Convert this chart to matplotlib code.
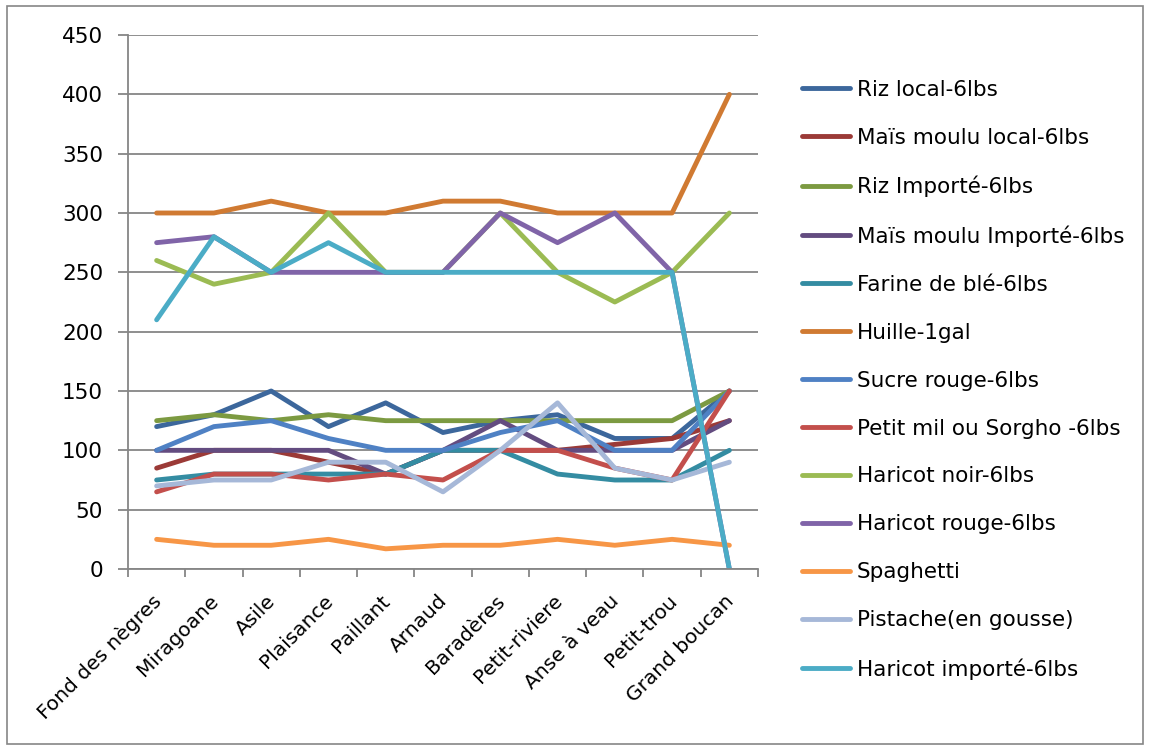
import matplotlib.pyplot as plt
import matplotlib.transforms as mtransforms
from matplotlib.patches import Rectangle

# categories (communes)
communes = ["Fond des nègres", "Miragoane", "Asile", "Plaisance", "Paillant", "Arnaud",
            "Baradères", "Petit-riviere", "Anse à veau", "Petit-trou", "Grand boucan"]

riz_local      = [120, 130, 150, 120, 140, 115, 125, 130, 110, 110, 150]
mais_local     = [85, 100, 100, 90, 80, 100, 100, 100, 105, 110, 125]
riz_importe    = [125, 130, 125, 130, 125, 125, 125, 125, 125, 125, 150]
mais_importe   = [100, 100, 100, 100, 80, 100, 125, 100, 100, 100, 125]
farine_ble     = [75, 80, 80, 80, 80, 100, 100, 80, 75, 75, 100]
huile          = [300, 300, 310, 300, 300, 310, 310, 300, 300, 300, 400]
sucre_rouge    = [100, 120, 125, 110, 100, 100, 115, 125, 100, 100, 150]
petit_mil      = [65, 80, 80, 75, 80, 75, 100, 100, 85, 75, 150]
haricot_noir   = [260, 240, 250, 300, 250, 250, 300, 250, 225, 250, 300]
haricot_rouge  = [275, 280, 250, 250, 250, 250, 300, 275, 300, 250, 0]
spaghetti      = [25, 20, 20, 25, 17, 20, 20, 25, 20, 25, 20]
pistache       = [70, 75, 75, 90, 90, 65, 100, 140, 85, 75, 90]
haricot_import = [210, 280, 250, 275, 250, 250, 250, 250, 250, 250, 0]

series = [
    ("Riz local-6lbs", riz_local, "#3C679C"),
    ("Maïs moulu local-6lbs", mais_local, "#9B3A37"),
    ("Riz Importé-6lbs", riz_importe, "#7C9A41"),
    ("Maïs moulu Importé-6lbs", mais_importe, "#634C80"),
    ("Farine de blé-6lbs", farine_ble, "#348CA2"),
    ("Huille-1gal", huile, "#D07A32"),
    ("Sucre rouge-6lbs", sucre_rouge, "#4F81C4"),
    ("Petit mil ou Sorgho -6lbs", petit_mil, "#C34F4C"),
    ("Haricot noir-6lbs", haricot_noir, "#9BBB53"),
    ("Haricot rouge-6lbs", haricot_rouge, "#8064A8"),
    ("Spaghetti", spaghetti, "#F79646"),
    ("Pistache(en gousse)", pistache, "#A6B8D8"),
    ("Haricot importé-6lbs", haricot_import, "#4BACC6"),
]

plt.rcParams['font.family'] = ['DejaVu Sans']
fig = plt.figure(figsize=(11.49, 7.49), dpi=100)
ax = fig.add_axes([128/1149, 1-569/749, 630/1149, 534/749])

x = list(range(len(communes)))
for name, vals, col in series:
    ax.plot(x, vals, color=col, lw=3.5, label=name, solid_capstyle='round', solid_joinstyle='round')

grid_col = "#868686"
ax.set_xlim(-0.5, len(communes) - 0.5)
ax.set_ylim(0, 450)
ax.set_yticks(range(0, 451, 50))
ax.yaxis.grid(True, color=grid_col, lw=1.3)
ax.set_axisbelow(True)
for s in ["top", "right"]:
    ax.spines[s].set_visible(False)
for s in ["left", "bottom"]:
    ax.spines[s].set_color(grid_col)
    ax.spines[s].set_linewidth(1.3)

ax.set_xticks(x)
ax.set_xticklabels(communes, rotation=45, ha='right', va='top', rotation_mode='anchor')
ax.set_xticks([i - 0.5 for i in range(len(communes) + 1)], minor=True)
ax.tick_params(axis='x', which='major', length=0, pad=16, labelsize=14.5)
ax.tick_params(axis='x', which='minor', length=6, width=1.3, color=grid_col, direction='out')
ax.tick_params(axis='y', length=7, width=1.3, color=grid_col, pad=11, labelsize=15.5)
shift = mtransforms.ScaledTranslation(-5/100, 0, fig.dpi_scale_trans)
for lbl in ax.get_xticklabels():
    lbl.set_transform(lbl.get_transform() + shift)

fig.legend(loc='upper left', bbox_to_anchor=(793/1149, 1-71/749), frameon=False,
           fontsize=15.5, handlelength=2.25, handletextpad=0.3, labelspacing=1.30, borderaxespad=0)

fig.add_artist(Rectangle((7/1149, 5/749), 1136/1149, 738/749, transform=fig.transFigure,
                         fill=False, edgecolor=grid_col, lw=1.2))

fig.savefig("out.png", dpi=100)
